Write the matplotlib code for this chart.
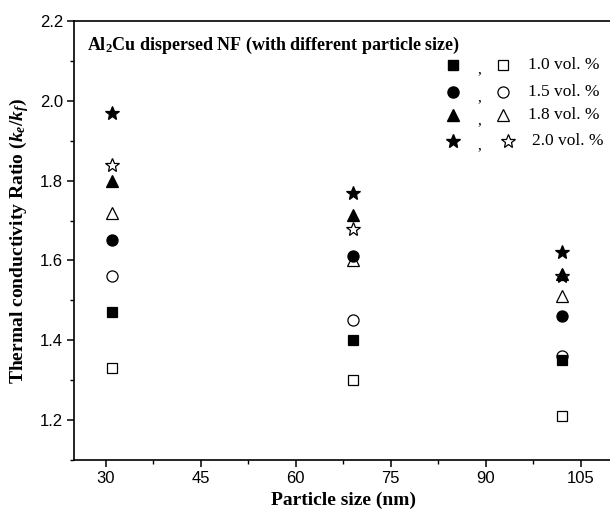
import matplotlib
matplotlib.use("Agg")
import matplotlib.pyplot as plt
from matplotlib.ticker import MultipleLocator

plt.rcParams['mathtext.fontset'] = 'custom'
plt.rcParams['mathtext.rm'] = 'Liberation Serif:bold'
plt.rcParams['mathtext.it'] = 'Liberation Serif:italic:bold'
plt.rcParams['mathtext.bf'] = 'Liberation Serif:bold'

# Particle sizes (nm)
sizes = [31, 69, 102]

# Thermal conductivity ratio, filled markers (first set) and open markers (second set)
filled_10 = [1.47, 1.40, 1.35]
filled_15 = [1.65, 1.61, 1.46]
filled_18 = [1.80, 1.715, 1.565]
filled_20 = [1.97, 1.77, 1.62]
open_10 = [1.33, 1.30, 1.21]
open_15 = [1.56, 1.45, 1.36]
open_18 = [1.72, 1.60, 1.51]
open_20 = [1.84, 1.68, 1.56]

labels = ['1.0 vol. %', '1.5 vol. %', '1.8 vol. %', '2.0 vol. %']
markers = ['s', 'o', '^', '*']
msizes = [7, 8, 9, 10.5]

filled = [filled_10, filled_15, filled_18, filled_20]
opened = [open_10, open_15, open_18, open_20]

fig = plt.figure(figsize=(6.1, 5.17), dpi=100)
ax = fig.add_axes([0.1213, 0.1103, 0.8831, 0.8491])

for vals, m, ms in zip(opened, markers, msizes):
    ax.plot(sizes, vals, linestyle='none', marker=m, ms=ms,
            mfc='white', mec='black', mew=0.9)
for vals, m, ms in zip(filled, markers, msizes):
    ax.plot(sizes, vals, linestyle='none', marker=m, ms=ms,
            mfc='black', mec='black', mew=0.9)

ax.set_xlim(25, 110)
ax.set_ylim(1.1, 2.2)
ax.xaxis.set_major_locator(MultipleLocator(15))
ax.xaxis.set_minor_locator(MultipleLocator(7.5))
ax.yaxis.set_major_locator(MultipleLocator(0.2))
ax.yaxis.set_minor_locator(MultipleLocator(0.1))
ax.yaxis.set_major_formatter(plt.FuncFormatter(lambda v, p: f"{v:.1f}"))

for s in ['left', 'bottom', 'top']:
    ax.spines[s].set_linewidth(1.2)
ax.spines['right'].set_visible(False)
ax.tick_params(which='major', direction='out', length=5, width=1.1,
               labelsize=12, pad=3)
ax.tick_params(which='minor', direction='out', length=3, width=1.0)
for lab in ax.get_xticklabels() + ax.get_yticklabels():
    lab.set_fontfamily('Liberation Sans')

ax.set_xlabel('Particle size (nm)', fontfamily='Liberation Serif',
              fontweight='bold', fontsize=14, labelpad=4)
ax.set_ylabel(r'Thermal conductivity Ratio ($k_e/k_f$)',
              fontfamily='Liberation Serif', fontweight='bold',
              fontsize=14, labelpad=6)

ax.text(0.024, 0.968, r'Al$_2$Cu dispersed NF (with different particle size)',
        transform=ax.transAxes, fontfamily='Liberation Serif',
        fontweight='bold', fontsize=13, va='top', ha='left')

# manual legend: filled , open  label
row_y = [0.900, 0.838, 0.786, 0.727]
for i, (lab, m, ms) in enumerate(zip(labels, markers, msizes)):
    y = row_y[i]
    ax.plot([0.7036], [y], transform=ax.transAxes, marker=m, ms=ms,
            mfc='black', mec='black', linestyle='none', clip_on=False)
    ax.text(0.7518, y - 0.012, ',', transform=ax.transAxes,
            fontfamily='Liberation Serif', fontsize=11, ha='center', va='center')
    ox = 0.7964 if m != '*' else 0.8056
    ax.plot([ox], [y], transform=ax.transAxes, marker=m, ms=ms,
            mfc='white', mec='black', mew=0.9, linestyle='none', clip_on=False)
    tx = 0.8428 if m != '*' else 0.8502
    ax.text(tx, y, lab, transform=ax.transAxes, fontfamily='Liberation Serif',
            fontsize=12.5, ha='left', va='center')

fig.savefig('out.png', dpi=100)
